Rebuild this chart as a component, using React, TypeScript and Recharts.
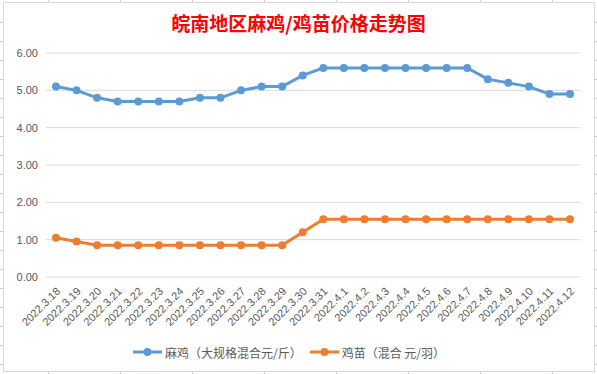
import React from 'react';
import { LineChart, Line, XAxis, YAxis, CartesianGrid, Legend } from 'recharts';

// 皖南地区麻鸡/鸡苗价格走势图, 2022.3.18 – 2022.4.12
const dates = [
  '2022.3.18', '2022.3.19', '2022.3.20', '2022.3.21', '2022.3.22', '2022.3.23',
  '2022.3.24', '2022.3.25', '2022.3.26', '2022.3.27', '2022.3.28', '2022.3.29',
  '2022.3.30', '2022.3.31', '2022.4.1', '2022.4.2', '2022.4.3', '2022.4.4',
  '2022.4.5', '2022.4.6', '2022.4.7', '2022.4.8', '2022.4.9', '2022.4.10',
  '2022.4.11', '2022.4.12',
];

// 麻鸡（大规格混合元/斤）
const maJi = [
  5.1, 5.0, 4.8, 4.7, 4.7, 4.7, 4.7, 4.8, 4.8, 5.0, 5.1, 5.1, 5.4,
  5.6, 5.6, 5.6, 5.6, 5.6, 5.6, 5.6, 5.6, 5.3, 5.2, 5.1, 4.9, 4.9,
];

// 鸡苗（混合 元/羽）
const jiMiao = [
  1.05, 0.95, 0.85, 0.85, 0.85, 0.85, 0.85, 0.85, 0.85, 0.85, 0.85, 0.85, 1.2,
  1.55, 1.55, 1.55, 1.55, 1.55, 1.55, 1.55, 1.55, 1.55, 1.55, 1.55, 1.55, 1.55,
];

const yTicks = [0, 1, 2, 3, 4, 5, 6];
const seriesOrder = ['maJi', 'jiMiao'];

const data = dates.map((d, i) => ({ date: d, maJi: maJi[i], jiMiao: jiMiao[i] }));

const BLUE = '#5B9BD5';
const ORANGE = '#ED7D31';
const GRID = '#D9D9D9';
const LABEL = '#595959';

const DateTick = (props: any) => {
  const { x, y, payload } = props;
  const ax = x + 5;
  const ay = y + 15;
  return (
    <text
      x={ax}
      y={ay}
      transform={`rotate(-45 ${ax} ${ay})`}
      textAnchor="end"
      fill={LABEL}
      fontSize={11}
      fontFamily="'Liberation Sans', Arial, sans-serif"
    >
      {payload.value}
    </text>
  );
};

const LegendContent = (props: any) => {
  const items = [...(props.payload || [])].sort(
    (a: any, b: any) => seriesOrder.indexOf(a.dataKey) - seriesOrder.indexOf(b.dataKey)
  );
  return (
    <div
      style={{
        display: 'flex',
        justifyContent: 'center',
        alignItems: 'center',
        height: 20,
        fontFamily: "'Noto Sans CJK SC', sans-serif",
        fontSize: 12,
        color: LABEL,
      }}
    >
      {items.map((p: any) => (
        <div key={p.value} style={{ display: 'flex', alignItems: 'center', marginRight: 8 }}>
          <svg width={29} height={10} style={{ marginRight: 3 }}>
            <line x1={0} y1={5} x2={29} y2={5} stroke={p.color} strokeWidth={3} />
            <circle cx={14.5} cy={5} r={4} fill={p.color} />
          </svg>
          <span>{p.value}</span>
        </div>
      ))}
    </div>
  );
};

// spreadsheet cells peeking out around the chart
const colStubs = [48, 120, 192, 264, 336, 408, 480, 552];
const rowStubs = [22, 41, 60, 79, 98, 117, 136, 155, 174, 193, 212, 231, 250, 269, 288, 307, 326, 345, 364];

export default function App() {
  return (
    <div style={{ position: 'absolute', left: 0, top: 0, width: 597, height: 374, background: '#fff' }}>
      <svg width={597} height={374} style={{ position: 'absolute', left: 0, top: 0 }}>
        {colStubs.map((cx) => (
          <g key={'c' + cx}>
            <line x1={cx + 0.5} y1={0} x2={cx + 0.5} y2={2} stroke="#C8CCE0" />
            <line x1={cx + 0.5} y1={372} x2={cx + 0.5} y2={374} stroke="#C8CCE0" />
          </g>
        ))}
        {rowStubs.map((ry) => (
          <g key={'r' + ry}>
            <line x1={0} y1={ry + 0.5} x2={3} y2={ry + 0.5} stroke="#C8CCE0" />
            <line x1={595} y1={ry + 0.5} x2={597} y2={ry + 0.5} stroke="#C8CCE0" />
          </g>
        ))}
        <rect x={3.5} y={2.5} width={591} height={369} fill="#fff" stroke={GRID} />
      </svg>
      <div
        style={{
          position: 'absolute',
          left: 0,
          top: 10,
          width: 597,
          textAlign: 'center',
          color: '#FF0000',
          fontWeight: 'bold',
          fontSize: 19,
          lineHeight: '26px',
          fontFamily: "'Noto Sans CJK SC', sans-serif",
        }}
      >
        皖南地区麻鸡/鸡苗价格走势图
      </div>
      <div style={{ position: 'absolute', left: 0, top: 0 }}>
        <LineChart width={597} height={374} data={data} margin={{ top: 53, right: 17, left: 6, bottom: 12 }}>
          <CartesianGrid vertical={false} stroke={GRID} strokeWidth={1} />
          <XAxis
            dataKey="date"
            interval={0}
            axisLine={false}
            tickLine={false}
            tickSize={0}
            tickMargin={0}
            height={65}
            padding={{ left: 10, right: 10 }}
            tick={<DateTick />}
          />
          <YAxis
            domain={[0, 6]}
            ticks={yTicks}
            width={40}
            axisLine={false}
            tickLine={false}
            tickSize={0}
            tickMargin={8}
            tickFormatter={(v: number) => v.toFixed(2)}
            tick={{ fill: LABEL, fontSize: 11, fontFamily: "'Liberation Sans', Arial, sans-serif" }}
          />
          <Legend verticalAlign="bottom" height={20} content={<LegendContent />} />
          <Line
            type="linear"
            dataKey="maJi"
            name="麻鸡（大规格混合元/斤）"
            stroke={BLUE}
            strokeWidth={3}
            dot={{ r: 4, fill: BLUE, stroke: BLUE, strokeWidth: 0 }}
            activeDot={false}
            isAnimationActive={false}
          />
          <Line
            type="linear"
            dataKey="jiMiao"
            name="鸡苗（混合 元/羽）"
            stroke={ORANGE}
            strokeWidth={3}
            dot={{ r: 4, fill: ORANGE, stroke: ORANGE, strokeWidth: 0 }}
            activeDot={false}
            isAnimationActive={false}
          />
        </LineChart>
      </div>
    </div>
  );
}
